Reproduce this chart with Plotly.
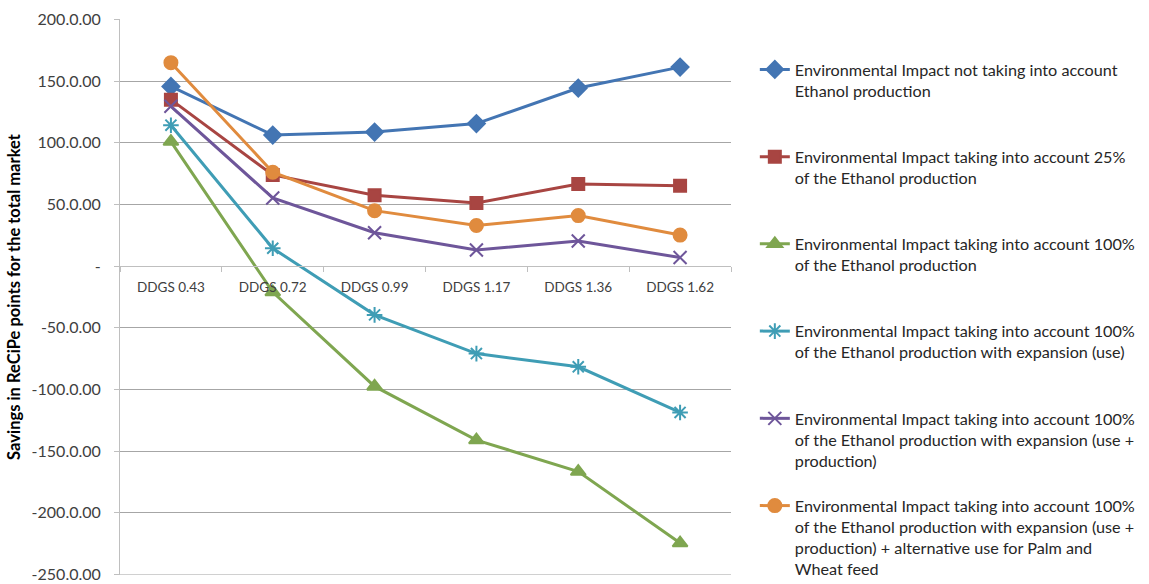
import plotly.graph_objects as go

# Categories on the x axis
categories = ["DDGS 0.43", "DDGS 0.72", "DDGS 0.99", "DDGS 1.17", "DDGS 1.36", "DDGS 1.62"]

# Savings per scenario (ReCiPe points)
not_ethanol = [145.7, 106.3, 108.7, 115.6, 144.4, 161.4]
ethanol_25 = [135.0, 74.0, 57.5, 51.3, 66.6, 65.2]
ethanol_100 = [101.0, -21.0, -97.5, -141.0, -166.5, -224.5]
expansion_use = [114.3, 14.5, -39.5, -70.9, -81.6, -118.6]
expansion_use_prod = [129.6, 55.3, 27.1, 13.1, 20.4, 7.0]
expansion_alt_feed = [165.0, 76.2, 45.0, 33.0, 41.0, 25.2]

# Y axis ticks
y_tickvals = [200, 150, 100, 50, 0, -50, -100, -150, -200, -250]
y_ticktext = ["200.0.00", "150.0.00", "100.0.00", "50.0.00", "-",
              "-50.0.00", "-100.0.00", "-150.0.00", "-200.0.00", "-250.0.00"]

series_names = [
    "Environmental Impact not taking into account<br>Ethanol production",
    "Environmental Impact taking into account 25%<br>of the Ethanol production",
    "Environmental Impact taking into account 100%<br>of the Ethanol production",
    "Environmental Impact taking into account 100%<br>of the Ethanol production with expansion (use)",
    "Environmental Impact taking into account 100%<br>of the Ethanol production with expansion (use +<br>production)",
    "Environmental Impact taking into account 100%<br>of the Ethanol production with expansion (use +<br>production) + alternative use for Palm and<br>Wheat feed",
]

series_values = [not_ethanol, ethanol_25, ethanol_100, expansion_use, expansion_use_prod, expansion_alt_feed]
colors = ["#4375B3", "#A84542", "#7FA650", "#3F9DB5", "#6E569A", "#E08B3E"]
symbols = ["diamond", "square", "triangle-up", "asterisk-open", "x-thin-open", "circle"]
sizes = [13, 12, 13, 13, 13, 13]

FONT = "Lato"


def pad_lines(name, n=4):
    # keep every legend entry the same height
    count = name.count("<br>") + 1
    return name + "<br>&nbsp;" * (n - count)


fig = go.Figure()
for name, vals, col, sym, sz in zip(series_names, series_values, colors, symbols, sizes):
    fig.add_trace(go.Scatter(
        x=categories, y=vals, mode="lines+markers", name=pad_lines(name),
        line=dict(color=col, width=3),
        marker=dict(symbol=sym, size=sz, color=col, line=dict(color=col, width=2)),
    ))

y_lo, y_hi = -250.4, 200.4
zero_pos = (0 - y_lo) / (y_hi - y_lo)

# bottom gridline at the lowest tick
fig.add_shape(type="line", xref="paper", yref="y", x0=0, x1=1, y0=-250, y1=-250,
              line=dict(color="#D0D0D0", width=1), layer="below")

fig.update_layout(
    width=1149, height=584,
    margin=dict(l=120, r=418, t=19, b=9, autoexpand=False),
    paper_bgcolor="white", plot_bgcolor="white",
    font=dict(family=FONT, size=15, color="#262626"),
    showlegend=True,
    legend=dict(
        x=1.039, y=0.940, xanchor="left", yanchor="top",
        font=dict(family=FONT, size=16.2, color="#262626"),
        valign="top", itemwidth=30, tracegroupgap=0,
        bgcolor="rgba(0,0,0,0)",
    ),
    xaxis=dict(
        type="category", anchor="free", position=zero_pos,
        showgrid=False, showline=True, linecolor="#BFBFBF", linewidth=1,
        ticks="outside", tickson="boundaries", ticklen=5, tickcolor="#BFBFBF",
        ticklabelstandoff=9, automargin=False,
        tickfont=dict(family=FONT, size=13.5, color="#404040"),
        range=[-0.5, 5.5], zeroline=False,
    ),
    yaxis=dict(
        range=[y_lo, y_hi], tickvals=y_tickvals, ticktext=y_ticktext,
        showgrid=True, gridcolor="#A6A6A6", gridwidth=1,
        showline=True, linecolor="#BFBFBF", linewidth=1,
        ticks="outside", ticklen=5, tickcolor="#BFBFBF",
        ticklabelstandoff=10, ticklabeloverflow="allow", automargin=False,
        tickfont=dict(family=FONT, size=16, color="#404040"),
        zeroline=False,
        title=dict(text="<b>Savings in ReCiPe points for the total market</b>",
                   font=dict(family=FONT, size=16.5, color="#000000"), standoff=6),
    ),
)

fig.write_html("out.html")
